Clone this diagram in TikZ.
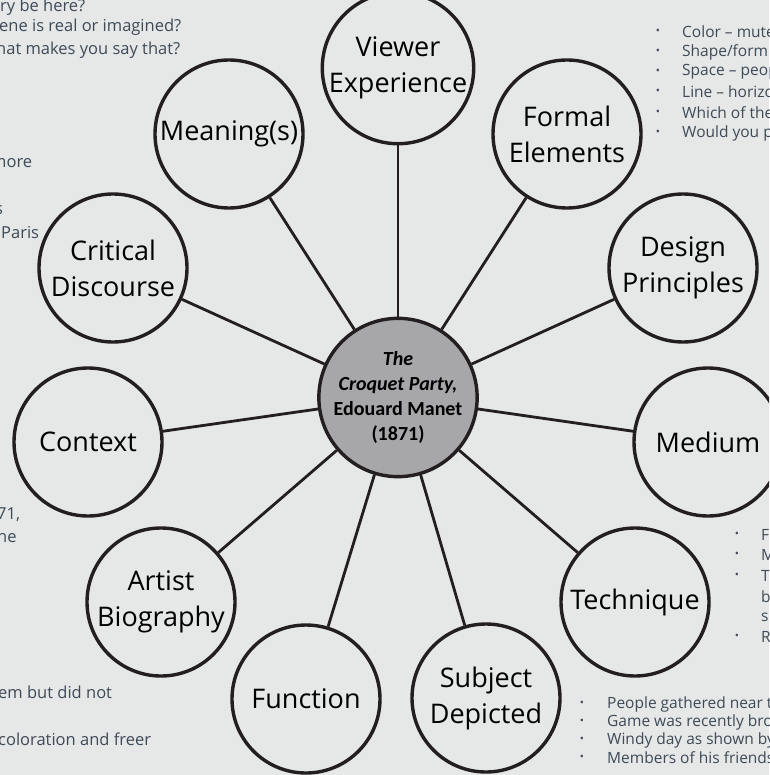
\documentclass[tikz,border=0pt]{standalone}
\usepackage{fontspec}
\setmainfont{Open Sans}
\newfontfamily\calib{Carlito}
\begin{document}
\definecolor{bgcol}{HTML}{E6E7E7}
\definecolor{ringcol}{HTML}{231F20}
\definecolor{hubfill}{HTML}{A7A7A9}
\definecolor{notecol}{HTML}{3E4B57}
\tikzset{
  topic/.style={circle, draw=ringcol, line width=3.4pt, fill=bgcol, inner sep=0pt,
    minimum size=148pt, align=center, text=black, font=\fontsize{27}{36}\selectfont},
  hub/.style={circle, draw=ringcol, line width=3.4pt, fill=hubfill, inner sep=0pt,
    minimum size=144pt, align=center, text=black,
    font=\calib\bfseries\fontsize{20}{25}\selectfont},
  spoke/.style={draw=ringcol, line width=2.8pt},
  note/.style={anchor=west, inner sep=0pt, text=notecol, font=\fontsize{15.5}{18}\selectfont},
  leftnote/.style={note, font=\fontsize{16.5}{20}\selectfont},
  dot/.style={anchor=center, inner sep=0pt, text=notecol, font=\fontsize{11}{12}\selectfont}
}
\begin{tikzpicture}[x=1pt, y=-1pt]
\useasboundingbox (0,0) rectangle (769,775);
\clip (0,0) rectangle (769,775);
\fill[bgcol] (0,0) rectangle (769,775);

% hub
\node[hub] (hub) at (398,397.5)
  {\itshape The\\\itshape Croquet Party,\\Edouard Manet\\(1871)};

% eleven topics on a ring around the hub
\node[topic] (view)    at (398,68)  {Viewer\\Experience};
\node[topic] (form)    at (567,134) {Formal\\Elements};
\node[topic] (design)  at (683,268) {Design\\Principles};
\node[topic] (medium)  at (708,442) {Medium};
\node[topic] (tech)    at (635,602) {Technique};
\node[topic] (subj)    at (486,698) {Subject\\Depicted};
\node[topic] (func)    at (306,699) {Function};
\node[topic] (artist)  at (161,602) {Artist\\Biography};
\node[topic] (context) at (88,442)  {Context};
\node[topic] (critic)  at (113,268) {Critical\\Discourse};
\node[topic] (mean)    at (229,134) {Meaning(s)};

% spokes
\foreach \t in {view,form,design,medium,tech,subj,func,artist,context,critic,mean}
  \draw[spoke] (hub) -- (\t);

% notes, left side
\node[leftnote] (n1)  at (0,7)    {ry be here?};
\node[leftnote] (n2)  at (-1,27)  {ene is real or imagined?};
\node[leftnote] (n3)  at (-4,50)  {hat makes you say that?};
\node[leftnote] (n4)  at (-9,163) {more};
\node[leftnote] (n5)  at (-5,210) {s};
\node[leftnote] (n6)  at (1,233)  {Paris};
\node[leftnote] (n7)  at (-3,515) {71,};
\node[leftnote] (n8)  at (-3,536) {he};
\node[leftnote] (n9)  at (-2,692) {em but did not};
\node[leftnote] (n10) at (-2,739) {coloration and freer};

% notes, top right
\foreach \y/\s in {32/{Color -- mute}, 52/{Shape/form}, 72/{Space -- peop}, 92/{Line -- horizo}, 113/{Which of the}, 133/{Would you p}}{
  \node[dot] at (658,\y) {•};
  \node[note] at (682,\y) {\s};
}

% notes, lower right
\foreach \y/\s in {535/F, 555/M, 576/T, 637/R}{
  \node[dot] at (737,\y) {•};
  \node[note] at (761,\y) {\s};
}
\node[note] (n11) at (761,597) {b};
\node[note] (n12) at (761,617) {s};

% notes, bottom right
\foreach \y/\s in {704/{People gathered near th}, 722/{Game was recently brou}, 740/{Windy day as shown by}, 758/{Members of his friends}}{
  \node[dot] at (582,\y) {•};
  \node[note] at (607,\y) {\s};
}
\end{tikzpicture}
\end{document}
